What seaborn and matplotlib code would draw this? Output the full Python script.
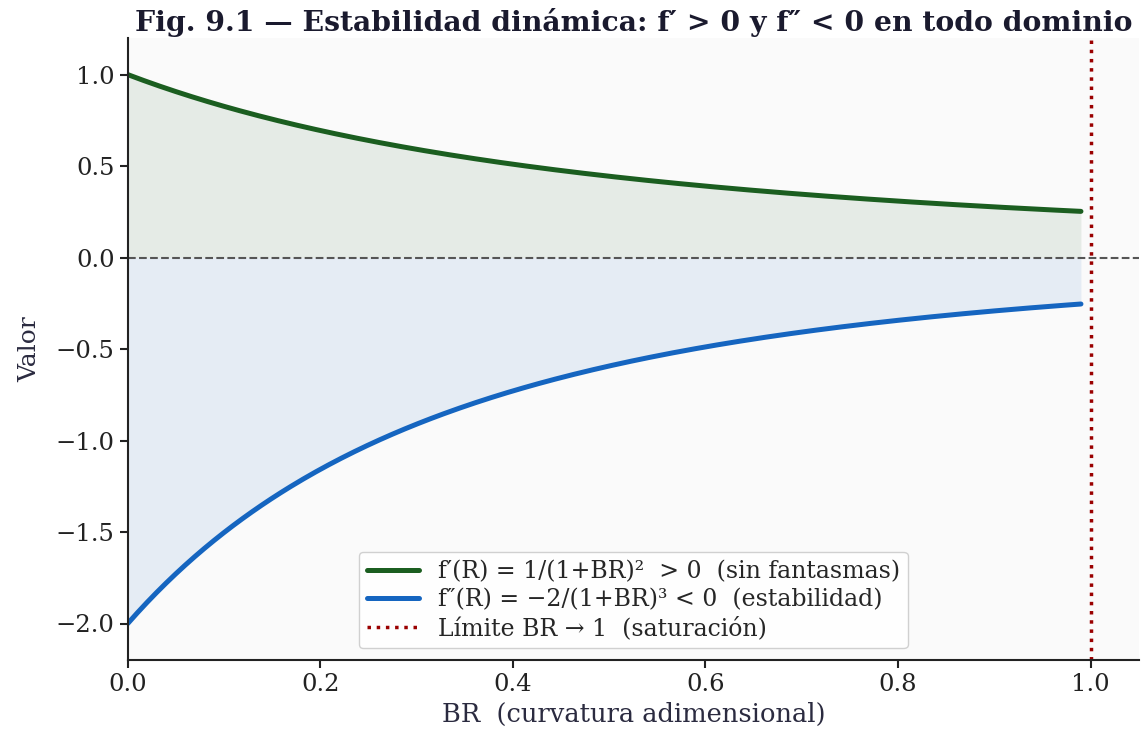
import numpy as np
import pandas as pd
import matplotlib
matplotlib.use("Agg")
import matplotlib.pyplot as plt
import seaborn as sns

# Curvature grid and the two derivative curves named in the legend
br_start, br_end, n_points = 0.0, 0.99, 300
br = np.linspace(br_start, br_end, n_points)
f_prime = 1.0 / (1.0 + br) ** 2
f_second = -2.0 / (1.0 + br) ** 3
saturation_limit = 1.0

x_ticks = [0.0, 0.2, 0.4, 0.6, 0.8, 1.0]
y_ticks = [-2.0, -1.5, -1.0, -0.5, 0.0, 0.5, 1.0]

label_fp = "f′(R) = 1/(1+BR)²  > 0  (sin fantasmas)"
label_fs = "f″(R) = −2/(1+BR)³ < 0  (estabilidad)"
label_lim = "Límite BR → 1  (saturación)"
title = "Fig. 9.1 — Estabilidad dinámica: f′ > 0 y f″ < 0 en todo dominio"

df = pd.DataFrame({"BR": br, "fp": f_prime, "fs": f_second})

sns.set_theme(style="ticks")
plt.rcParams["font.family"] = ["DejaVu Serif", "DejaVu Sans"]

green = "#1b5e20"
blue = "#1565c0"

fig, ax = plt.subplots(figsize=(11.41, 7.31), dpi=100)
fig.patch.set_facecolor("white")
ax.set_facecolor("#fafafa")

ax.fill_between(df["BR"], 0, df["fp"], color=green, alpha=0.09, linewidth=0)
ax.fill_between(df["BR"], 0, df["fs"], color=blue, alpha=0.09, linewidth=0)

sns.lineplot(data=df, x="BR", y="fp", ax=ax, color=green, linewidth=3.6, label=label_fp)
sns.lineplot(data=df, x="BR", y="fs", ax=ax, color=blue, linewidth=3.6, label=label_fs)
ax.axhline(0, color="#555555", linestyle="--", linewidth=1.5)
ax.axvline(saturation_limit, color="#9a0000", linestyle=":", linewidth=2.5, label=label_lim)

ax.set_xlim(0, 1.05)
ax.set_ylim(-2.2, 1.2)
ax.set_xticks(x_ticks)
ax.set_yticks(y_ticks)
ax.tick_params(labelsize=17.5, colors="#222222", width=1.5, length=6)
ax.set_xlabel("BR  (curvatura adimensional)", fontsize=18.5, color="#2b2b40", labelpad=4)
ax.set_ylabel("Valor", fontsize=18, color="#2b2b40", labelpad=10)
ax.set_title(title, fontsize=20.3, fontweight="bold", color="#1a1a2e", pad=5)

sns.despine(ax=ax)
for s in ("left", "bottom"):
    ax.spines[s].set_linewidth(1.5)
    ax.spines[s].set_color("#222222")

leg = ax.legend(loc="lower center", bbox_to_anchor=(0.5, 0.0), fontsize=17,
                frameon=True, framealpha=0.9, handlelength=2.2, labelspacing=0.22,
                borderpad=0.35)
leg.get_frame().set_edgecolor("#cccccc")

fig.subplots_adjust(left=0.112, right=0.998, top=0.948, bottom=0.097)
fig.savefig("out.png", dpi=100, facecolor="white")
